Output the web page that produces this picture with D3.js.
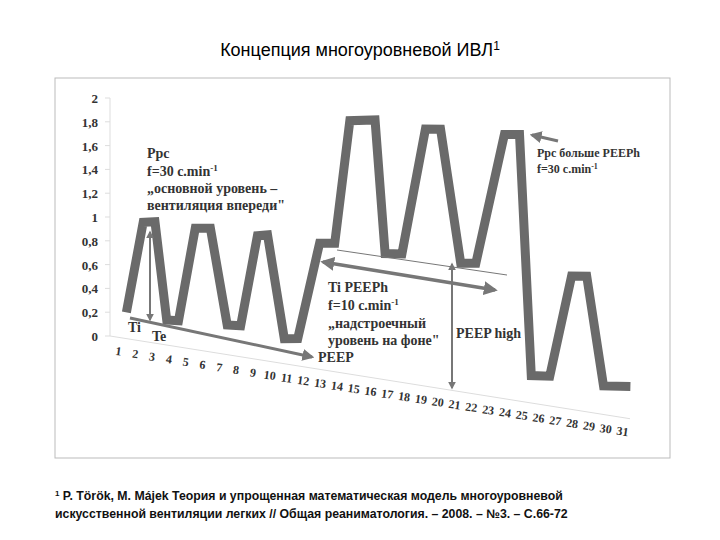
<!DOCTYPE html><html><head><meta charset="utf-8"><script src="https://cdn.jsdelivr.net/npm/d3@7"></script>
<style>body{margin:0;background:#fff}</style></head><body><svg id="c" width="720" height="540"></svg>
<script>
const yTicks=[0,0.2,0.4,0.6,0.8,1,1.2,1.4,1.6,1.8,2];
const yTickLabels=["0","0,2","0,4","0,6","0,8","1","1,2","1,4","1,6","1,8","2"];
const categories=d3.range(1,32);
const seriesX=[1.5,2.5,3.2,3.9,4.6,5.6,6.5,7.5,8.3,9.3,9.9,10.9,11.7,13.0,13.9,14.8,16.3,16.9,17.9,19.3,20.2,21.4,22.3,24.0,24.9,25.6,26.7,28.0,28.9,29.9,31.5];
const seriesV=[0.22,1.0,1.02,0.21,0.22,1.02,1.04,0.25,0.26,1.04,1.06,0.21,0.23,1.06,1.08,2.13,2.17,1.06,1.08,2.16,2.18,1.08,1.10,2.22,2.24,0.23,0.25,1.12,1.14,0.24,0.27];

const svg=d3.select("#c");
const x=d3.scaleLinear().domain([1,31]).range([118,622]);
const y=d3.scaleLinear().domain([0,2]).range([336,98]);
const shear=c=>(x(c)-110)*0.159;
const P=(c,v)=>[x(c),y(v)+shear(c)];
const F="'Liberation Serif',serif";

svg.append("rect").attr("x",55).attr("y",78).attr("width",615).attr("height",380).attr("fill","none").attr("stroke","#bbb");
svg.append("text").attr("x",360).attr("y",56).attr("text-anchor","middle").attr("font-family","'Liberation Sans',Arial").attr("font-size",18)
 .html('Концепция многоуровневой ИВЛ<tspan dy="-6" font-size="12">1</tspan>');

// axes
svg.append("line").attr("x1",110).attr("y1",y(2)).attr("x2",110).attr("y2",y(0)).attr("stroke","#ddd");
svg.append("line").attr("x1",110).attr("y1",y(0)).attr("x2",x(31)+8).attr("y2",y(0)+shear(31)+1.3).attr("stroke","#ddd");
yTicks.forEach((t,i)=>{
 svg.append("line").attr("x1",105).attr("x2",110).attr("y1",y(t)).attr("y2",y(t)).attr("stroke","#ddd");
 svg.append("text").attr("x",98).attr("y",y(t)+5).attr("text-anchor","end").attr("font-family",F).attr("font-weight","bold").attr("font-size",13).attr("fill","#333").text(yTickLabels[i]);
});
categories.forEach(c=>{
 svg.append("text").attr("x",x(c)).attr("y",y(0)+shear(c)+18).attr("text-anchor","middle").attr("font-family",F).attr("font-weight","bold").attr("font-size",12).attr("fill","#333")
  .attr("transform",`rotate(8,${x(c)},${y(0)+shear(c)+18})`).text(c);
});

// series
const pts=seriesX.map((c,i)=>P(c,seriesV[i]));
svg.append("path").attr("d",d3.line()(pts)).attr("fill","none").attr("stroke","#6a6a6a").attr("stroke-width",9).attr("stroke-linejoin","miter");

// arrows
const defs=svg.append("defs");
defs.append("marker").attr("id","ah").attr("viewBox","0 0 10 10").attr("refX",8).attr("refY",5).attr("markerWidth",4).attr("markerHeight",4).attr("orient","auto-start-reverse")
 .append("path").attr("d","M0,0L10,5L0,10z").attr("fill","#777");
const arr=(x1,y1,x2,y2,w,both)=>svg.append("line").attr("x1",x1).attr("y1",y1).attr("x2",x2).attr("y2",y2).attr("stroke","#777").attr("stroke-width",w)
 .attr("marker-end","url(#ah)").attr("marker-start",both?"url(#ah)":null);
arr(150,232,150,320,2,true);
arr(130,318,312,357,3,false);
arr(323,262,495,290,3.5,true);
arr(452,264,452,388,2,true);
arr(558,141,532,135,3,false);
svg.append("line").attr("x1",337).attr("y1",250).attr("x2",507).attr("y2",275).attr("stroke","#777").attr("stroke-width",1);

const txt=(s,xx,yy)=>svg.append("text").attr("x",xx).attr("y",yy).attr("font-family",F).attr("font-weight","bold").attr("font-size",14).attr("fill","#333").html(s);
txt("Ррс",147,158);
txt('f=30 c.min<tspan dy="-5" font-size="9">-1</tspan>',147,176);
txt("„основной уровень –",147,193);
txt("вентиляция впереди\"",147,210);
txt("Ti",128,332);txt("Te",152,341);
txt("PEEP",318,362);
txt("Ti PEEPh",328,292);
txt('f=10 c.min<tspan dy="-5" font-size="9">-1</tspan>',328,310);
txt("„надстроечный",328,328);
txt("уровень на фоне\"",328,345);
txt("PEEP high",456,338);
svg.append("text").attr("x",537).attr("y",157).attr("font-family",F).attr("font-weight","bold").attr("font-size",12).attr("fill","#333").text("Ррс больше PEEPh");
svg.append("text").attr("x",537).attr("y",173).attr("font-family",F).attr("font-weight","bold").attr("font-size",12).attr("fill","#333").html('f=30 c.min<tspan dy="-4" font-size="8">-1</tspan>');

const fn=(s,yy)=>svg.append("text").attr("x",55).attr("y",yy).attr("font-family","'Liberation Sans',Arial").attr("font-weight","bold").attr("font-size",12.3).attr("fill","#111").html(s);
fn('<tspan dy="-4" font-size="8">1</tspan><tspan dy="4"> P. Török, M. Májek Теория и упрощенная математическая модель многоуровневой</tspan>',500);
fn("искусственной вентиляции легких // Общая реаниматология. – 2008. – №3. – С.66-72",518);
</script></body></html>
